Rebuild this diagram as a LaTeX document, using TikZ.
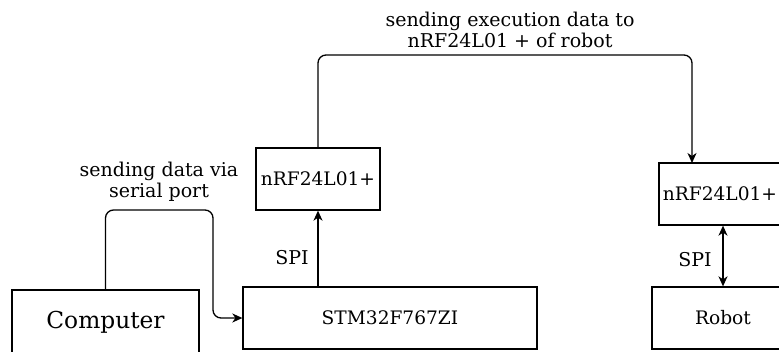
\documentclass[tikz,border=0pt]{standalone}
\usepackage{fontspec}
\setmainfont{DejaVu Serif}
\usetikzlibrary{arrows.meta,calc}
\begin{document}
\begin{tikzpicture}[x=1pt,y=-1pt,
  box/.style={draw, line width=1.3pt, rectangle, inner sep=0pt},
  conn/.style={line width=1.3pt, rounded corners=8pt},
  tip/.style={-{Stealth[length=10pt,width=9pt,inset=3pt]}},
  lbl/.style={align=center, font=\fontsize{19}{21}\selectfont, inner sep=0pt}]
\useasboundingbox (0,0) rectangle (779,351);
% boxes
\node[box, minimum width=187pt, minimum height=64pt, font=\fontsize{23.3}{27}\selectfont] (comp) at (105.5,322) {Computer};
\node[box, minimum width=294pt, minimum height=62pt, font=\fontsize{18.6}{21}\selectfont] (stm) at (390,318) {STM32F767ZI\hspace{29pt}};
\node[box, minimum width=124pt, minimum height=62pt, font=\fontsize{18.6}{21}\selectfont] (nrfa) at (318,179) {nRF24L01+};
\node[box, minimum width=122pt, minimum height=62pt, font=\fontsize{18.6}{21}\selectfont] (nrfb) at (720,194) {nRF24L01+};
\node[box, minimum width=142pt, minimum height=62pt, font=\fontsize{18.6}{21}\selectfont] (robot) at (723,318) {Robot};
% helper coordinates
\coordinate (c1) at (213,210);
\coordinate (c2) at (213,318);
\coordinate (t1) at (318,55);
\coordinate (t2) at (692,55);
\coordinate (t3) at (692,163);
% connectors
\draw[conn,tip] (comp.north) |- (c1) -- (c2) -- (stm.west);
\draw[conn,tip] (stm.north -| nrfa.south) -- (nrfa.south);
\draw[conn,tip] (nrfa.north) -- (t1) -- (t2) -- (t3);
\draw[conn,{Stealth[length=10pt,width=9pt,inset=3pt]}-{Stealth[length=10pt,width=9pt,inset=3pt]}] (nrfb.south -| robot.north) -- (robot.north);
% labels
\node[lbl] (l1) at (159,182) {sending data via\\serial port};
\node[lbl] (l2) at (510,30) {sending execution data to\\nRF24L01 + of robot};
\node[lbl] (s1) at (292,258) {SPI};
\node[lbl] (s2) at (695,260) {SPI};
\end{tikzpicture}
\end{document}
